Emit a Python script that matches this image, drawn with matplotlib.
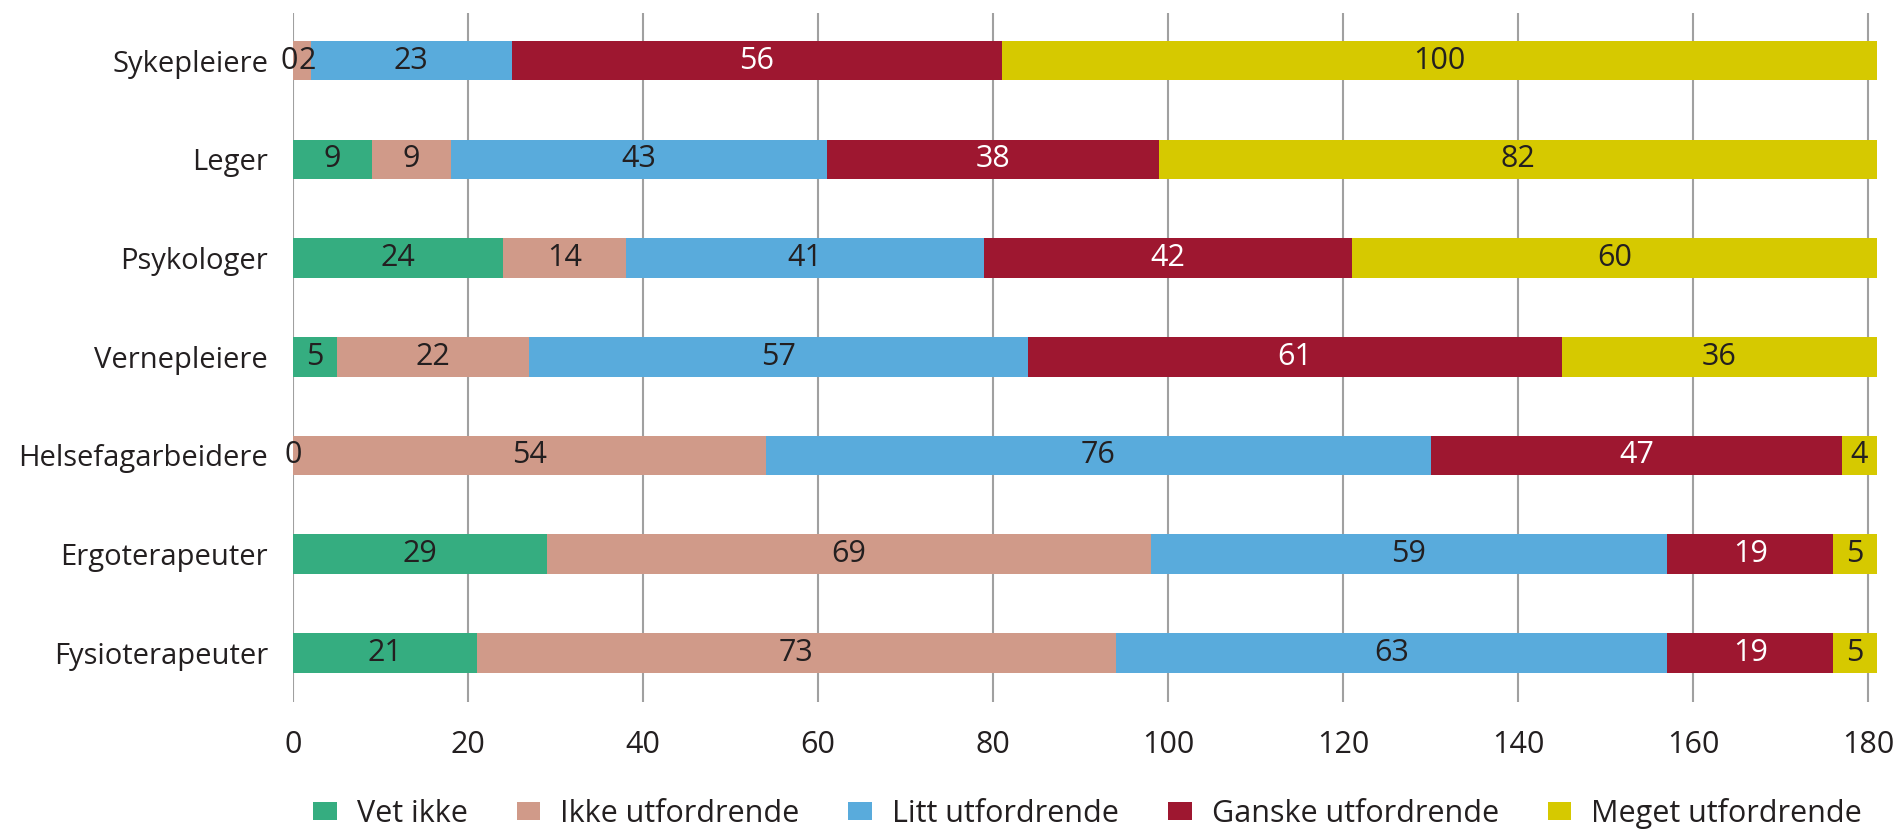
import matplotlib
matplotlib.use("Agg")
import matplotlib.pyplot as plt
import numpy as np

plt.rcParams['font.family'] = ['Open Sans', 'DejaVu Sans']

categories = ["Sykepleiere", "Leger", "Psykologer", "Vernepleiere",
              "Helsefagarbeidere", "Ergoterapeuter", "Fysioterapeuter"]
series_names = ["Vet ikke", "Ikke utfordrende", "Litt utfordrende",
                "Ganske utfordrende", "Meget utfordrende"]
vet_ikke = [0, 9, 24, 5, 0, 29, 21]
ikke_utfordrende = [2, 9, 14, 22, 54, 69, 73]
litt_utfordrende = [23, 43, 41, 57, 76, 59, 63]
ganske_utfordrende = [56, 38, 42, 61, 47, 19, 19]
meget_utfordrende = [100, 82, 60, 36, 4, 5, 5]
x_ticks = [0, 20, 40, 60, 80, 100, 120, 140, 160, 180]

series = [vet_ikke, ikke_utfordrende, litt_utfordrende,
          ganske_utfordrende, meget_utfordrende]
colors = ["#35ad80", "#d09a89", "#59abdc", "#9e1730", "#d6c900"]
text_colors = ["#231f20", "#231f20", "#231f20", "white", "#231f20"]
FS = 22

fig = plt.figure(figsize=(18.98, 8.33), dpi=100)
ax = fig.add_axes([0.1544, 0.157, 0.989 - 0.1544, 0.984 - 0.157])

y = np.arange(len(categories))
data = np.array(series, dtype=float)          # shape (series, category)
starts = np.vstack([np.zeros(len(categories)), np.cumsum(data, axis=0)[:-1]])

for k, (name, col) in enumerate(zip(series_names, colors)):
    ax.barh(y, data[k], left=starts[k], height=0.4, color=col, label=name,
            zorder=3)

# value labels; an empty segment next to a very thin one is split apart
for k in range(len(series)):
    for i in range(len(categories)):
        v, l = data[k, i], starts[k, i]
        x, ha = l + v / 2, "center"
        nxt = data[k + 1, i] if k + 1 < len(series) else None
        prv = data[k - 1, i] if k > 0 else None
        if v == 0 and nxt is not None and 0 < nxt < 3:
            x, ha = l + 0.57, "right"
        elif 0 < v < 3 and prv == 0:
            x, ha = l + 0.57, "left"
        ax.text(x, i, f"{int(v)}", ha=ha, va="center", fontsize=FS,
                color=text_colors[k], zorder=4)

ax.set_ylim(6.5, -0.48)
ax.set_xlim(0, 181)
ax.set_xticks(x_ticks)
ax.set_yticks(y)
ax.set_yticklabels(categories)
ax.tick_params(axis="both", length=0, labelsize=FS, colors="#231f20")
ax.tick_params(axis="y", pad=18, labelsize=21)
ax.tick_params(axis="x", pad=20)
for s in ax.spines.values():
    s.set_visible(False)
ax.grid(axis="x", color="#a0a0a0", linewidth=1.5, zorder=0)
ax.set_axisbelow(True)

ax.legend(loc="center", bbox_to_anchor=(0.573, 0.024),
          bbox_transform=fig.transFigure, ncol=5, frameon=False,
          fontsize=FS, handlelength=0.78, handleheight=0.53,
          handletextpad=0.65, columnspacing=1.6, labelcolor="#231f20")

fig.savefig("out.png", dpi=100)
